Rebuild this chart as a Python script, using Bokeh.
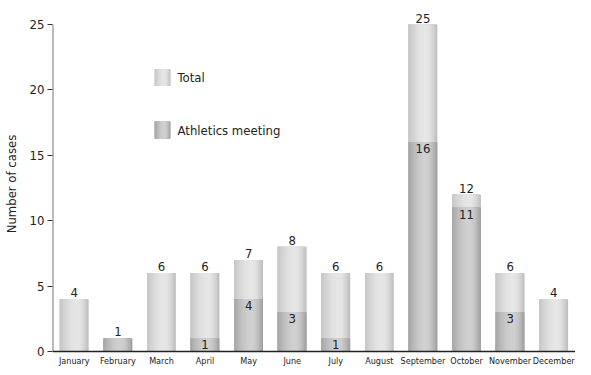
import math
from bokeh.plotting import figure
from bokeh.core.properties import value
from bokeh.models import ColumnDataSource, Range1d, FactorRange, Label, LabelSet, Span
from bokeh.transform import dodge
from bokeh.embed import file_html
from bokeh.resources import INLINE

months = ["January", "February", "March", "April", "May", "June", "July",
          "August", "September", "October", "November", "December"]
total = [4, 1, 6, 6, 7, 8, 6, 6, 25, 12, 6, 4]
athletics = [0, 1, 0, 1, 4, 3, 1, 0, 16, 11, 3, 0]
y_ticks = [0, 5, 10, 15, 20, 25]

FONT = "DejaVu Sans Condensed"
TXT = "#222222"

p = figure(x_range=FactorRange(*months, range_padding=0.0), y_range=Range1d(-1.223, 26.835),
           width=575, height=367, output_backend="svg", toolbar_location=None,
           x_axis_location=None,
           min_border_left=45, min_border_right=0, min_border_top=0, min_border_bottom=0)
p.outline_line_color = None
p.grid.visible = False

BAR_W = 0.66
N = 24
sw = BAR_W / N


def shade(t, lo, hi, lo_r):
    peak = 0.6
    if t <= peak:
        v = lo + (hi - lo) * math.sin((t / peak) * math.pi / 2)
    else:
        v = lo_r + (hi - lo_r) * math.cos(((t - peak) / (1 - peak)) * math.pi / 2)
    v = int(round(v))
    return "#%02x%02x%02x" % (v, v, v)


TOT_SH = (0xc6, 0xe6, 0xbc)
ATH_SH = (0xa6, 0xd0, 0x9c)

src = ColumnDataSource(dict(month=months, total=total, athletics=athletics))
for col, sh in (("total", TOT_SH), ("athletics", ATH_SH)):
    for i in reversed(range(N)):
        t = (i + 0.5) / N
        w = (i + 1) * sw
        off = -BAR_W / 2 + w / 2
        p.vbar(x=dodge("month", off, range=p.x_range), top=col, bottom=0, width=w,
               source=src, fill_color=shade(t, *sh), line_color=None)

# value labels
lab_total = ColumnDataSource(dict(month=months, y=total, txt=[str(v) for v in total]))
p.add_layout(LabelSet(x="month", y="y", text="txt", source=lab_total, text_align="center",
                      text_baseline="bottom", y_offset=2, text_font=value(FONT),
                      text_font_size="13px", text_color=TXT))
am = [m for m, a, t in zip(months, athletics, total) if 0 < a < t]
av = [a for a, t in zip(athletics, total) if 0 < a < t]
lab_ath = ColumnDataSource(dict(month=am, y=av, txt=[str(v) for v in av]))
p.add_layout(LabelSet(x="month", y="y", text="txt", source=lab_ath, text_align="center",
                      text_baseline="top", y_offset=-2, text_font=value(FONT),
                      text_font_size="13px", text_color=TXT))

# month labels (category axis)
lab_m = ColumnDataSource(dict(month=months, y=[0] * len(months)))
p.add_layout(LabelSet(x="month", y="y", text="month", source=lab_m, text_align="center",
                      text_baseline="top", y_offset=-4, text_font=value(FONT),
                      text_font_size="9px", text_color=TXT))

# legend
LW = 0.36
leg_items = [("Total", 20.95, TOT_SH), ("Athletics meeting", 16.93, ATH_SH)]
for name, yv, sh in leg_items:
    for i in reversed(range(N)):
        t = (i + 0.5) / N
        x0 = 2.35
        p.quad(left=[x0], right=[x0 + (i + 1) * LW / N], bottom=[yv - 0.65], top=[yv + 0.65],
               fill_color=shade(t, *sh), line_color=None)
    p.add_layout(Label(x=2.87, y=yv, text=name, text_baseline="middle", text_font=FONT,
                       text_font_size="13px", text_color=TXT))

# axis lines
p.segment(x0=[0], x1=[0], y0=[y_ticks[0]], y1=[y_ticks[-1]], line_color="#777777",
          line_width=2)
p.add_layout(Span(location=0, dimension="width", line_color="#222222", line_width=1.5))

# y axis
p.yaxis.ticker = y_ticks
p.yaxis.axis_label = "Number of cases"
p.yaxis.axis_label_text_font = FONT
p.yaxis.axis_label_text_font_style = "normal"
p.yaxis.axis_label_text_font_size = "13px"
p.yaxis.axis_label_text_color = TXT
p.yaxis.axis_label_standoff = 8
p.yaxis.major_label_text_font = FONT
p.yaxis.major_label_text_font_size = "13px"
p.yaxis.major_label_text_color = TXT
p.yaxis.axis_line_color = None
p.yaxis.major_tick_line_color = "#333333"
p.yaxis.major_tick_in = 0
p.yaxis.major_tick_out = 5
p.yaxis.minor_tick_line_color = None
p.yaxis.major_label_standoff = 3

open("out.html", "w").write(file_html(p, INLINE))
